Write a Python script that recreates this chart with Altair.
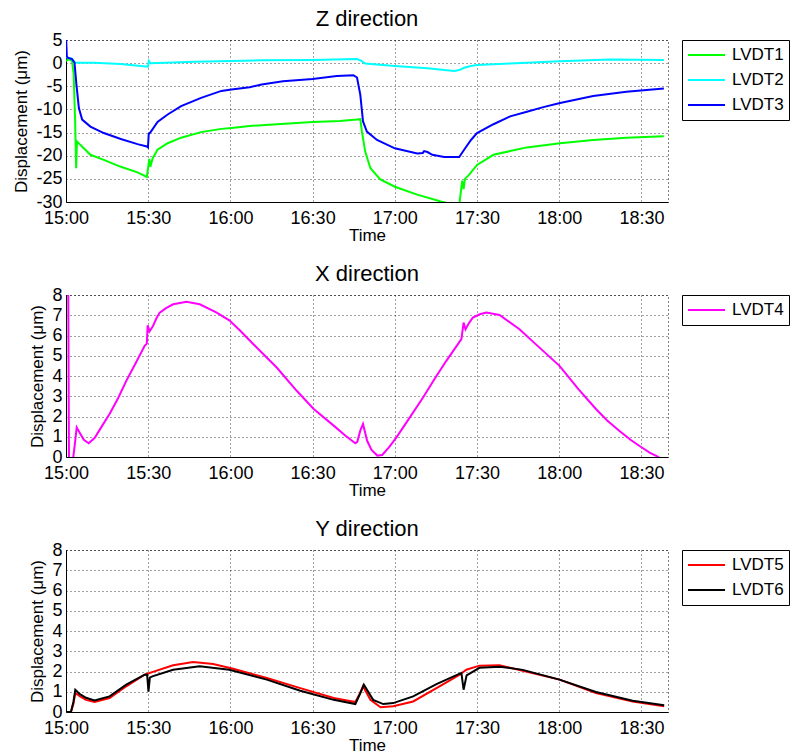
import altair as alt
import pandas as pd

# ---- Sensor readings: minutes after 15:00 and displacement in micrometres ----
# Z direction
LVDT1_T = [0, 1.0, 2.2, 2.8, 3.3, 3.7, 4.0, 5.3, 8.9, 13.8, 20, 26.1, 29.5, 30.0, 30.4, 30.8,
           31.6, 33.4, 37.1, 42, 49.3, 56.7, 60.4, 67, 71.4, 80, 90, 100, 106.2, 107.4, 108,
           109.2, 111.1, 114.7, 120, 128.2, 136.8, 140.4, 143.5, 144.1, 144.6, 145.1, 145.6,
           147, 150, 156, 162.1, 168.2, 180.3, 192.4, 204.5, 218.2]
LVDT1_V = [0.5, 0.8, 0.5, -2.4, -11.8, -22.7, -16.9, -17.7, -19.8, -20.9, -22.4, -23.6, -24.6,
           -22.4, -20.7, -22.4, -20.6, -18.7, -17.3, -16.1, -14.9, -14.2, -14.0, -13.6, -13.4,
           -13.1, -12.7, -12.5, -12.2, -12.1, -14.8, -19.1, -22.7, -25.1, -26.7, -28.4, -29.9,
           -30.4, -30.7, -27.8, -25.4, -27.2, -25.0, -24.2, -22.0, -19.8, -19.0, -18.2, -17.3,
           -16.6, -16.1, -15.8]

LVDT2_T = [0, 0.6, 2.0, 3.4, 10.2, 20, 29.1, 29.9, 30.2, 30.8, 46.9, 71.4, 90, 106.2, 107.5,
           109.2, 120, 131.9, 141.7, 143.5, 145.3, 147.8, 150, 162, 180.3, 198.5, 218.2]
LVDT2_V = [1.5, 1.1, 1.0, 0.1, 0.1, -0.2, -0.7, -0.8, 0.5, 0.0, 0.3, 0.6, 0.7, 0.9, 0.6, -0.1,
           -0.6, -1.1, -1.7, -1.5, -1.0, -0.6, -0.4, -0.1, 0.4, 0.8, 0.7]

LVDT3_T = [0, 0.3, 0.6, 2.2, 3.1, 3.8, 4.7, 5.9, 8.9, 13.8, 20, 26.1, 29.5, 29.9, 30.2, 31,
           33.4, 37.1, 42, 49.3, 56.7, 60.4, 67, 71.4, 79.2, 90, 98.8, 104.9, 106.2, 107.4,
           108.4, 109.8, 113.5, 120, 128.2, 130.2, 130.7, 131.9, 133.7, 138, 143.5, 145.3,
           147.8, 150, 156, 162.1, 168.2, 174.2, 180.3, 192.4, 204.5, 218.2]
LVDT3_V = [6.0, 1.5, 1.2, 0.9, 0.1, -4.6, -9.7, -12.2, -13.7, -15.1, -16.4, -17.5, -18.0, -18.2,
           -15.3, -14.8, -12.7, -11.1, -9.3, -7.5, -6.0, -5.7, -5.2, -4.6, -3.9, -3.4, -2.8,
           -2.6, -3.1, -6.8, -12.6, -14.8, -16.6, -18.4, -19.5, -19.4, -19.0, -19.2, -19.8,
           -20.3, -20.3, -18.7, -16.6, -15.1, -13.2, -11.5, -10.5, -9.5, -8.6, -7.1, -6.2, -5.5]

# X direction
LVDT4_T = [0.7, 1.1, 2.4, 3.2, 3.9, 5.0, 6.5, 8.3, 10.5, 13, 15.9, 19, 22, 25.5, 28.7, 29.5,
           29.8, 30.5, 31.7, 33, 34.2, 36.5, 39.1, 44, 48.8, 55, 59.6, 63.5, 68.4, 76.9, 84.2,
           90.4, 97.7, 102, 105.6, 106.3, 107.4, 108.4, 109.9, 111.5, 113.6, 115.4, 118, 120.6,
           125, 130.3, 134.5, 138.8, 144.3, 145.1, 145.8, 147, 148.5, 151, 153.4, 158.2, 165.5,
           172, 180.1, 187, 193.4, 197.5, 201.9, 206, 210, 213, 215.9, 218.2]
LVDT4_V = [12, -0.5, -0.3, 0.6, 1.46, 1.2, 0.85, 0.68, 0.95, 1.5, 2.12, 2.9, 3.76, 4.65, 5.49,
           5.6, 6.5, 6.2, 6.45, 6.85, 7.13, 7.35, 7.54, 7.67, 7.54, 7.13, 6.75, 6.25, 5.57, 4.42,
           3.27, 2.37, 1.55, 1.05, 0.68, 0.75, 1.3, 1.63, 0.8, 0.35, 0.07, 0.1, 0.5, 0.97, 1.86,
           2.94, 3.85, 4.75, 5.82, 6.64, 6.3, 6.6, 6.89, 7.05, 7.13, 7.01, 6.31, 5.5, 4.5, 3.35,
           2.37, 1.8, 1.3, 0.85, 0.48, 0.22, 0.02, -0.2]

# Y direction
LVDT5_T = [0, 1.8, 2.7, 3.4, 4.9, 7.3, 10.4, 15.9, 22, 28.7, 31.7, 39.1, 46.4, 53.7, 61, 73.3,
           85.5, 97.7, 105.6, 107.2, 108.4, 111.1, 114.8, 119.4, 126.7, 135.2, 143.7, 146.1,
           150.9, 158.2, 166.7, 180.1, 193.4, 206.8, 218.3]
LVDT5_V = [0, 0.0, 0.4, 0.94, 0.8, 0.6, 0.49, 0.69, 1.27, 1.84, 1.98, 2.31, 2.47, 2.37, 2.14,
           1.68, 1.18, 0.69, 0.49, 0.9, 1.27, 0.6, 0.23, 0.28, 0.52, 1.18, 1.84, 2.09, 2.29,
           2.31, 2.04, 1.6, 0.94, 0.52, 0.28]

LVDT6_T = [0, 1.8, 2.7, 3.4, 4.9, 7.3, 10.4, 15.9, 22, 28.7, 29.6, 30.1, 30.6, 31.5, 39.1, 48.8,
           59.6, 73.3, 85.5, 97.7, 105.6, 107.3, 108.7, 112.1, 115.8, 119.4, 126.7, 135.2,
           144.3, 145.1, 146.2, 150.9, 158.2, 166.7, 180.1, 193.4, 206.8, 218.3]
LVDT6_V = [0, 0.0, 0.5, 1.1, 0.9, 0.7, 0.57, 0.77, 1.35, 1.84, 1.85, 1.0, 1.7, 1.76, 2.09, 2.26,
           2.09, 1.6, 1.05, 0.6, 0.39, 0.9, 1.35, 0.6, 0.39, 0.44, 0.77, 1.38, 1.93, 1.1, 1.81,
           2.18, 2.24, 2.08, 1.6, 0.99, 0.56, 0.33]

# Axis ticks
TIME_TICKS = [(15, 0), (15, 30), (16, 0), (16, 30), (17, 0), (17, 30), (18, 0), (18, 30)]
Z_TICKS = [-30, -25, -20, -15, -10, -5, 0, 5]
XY_TICKS = [0, 1, 2, 3, 4, 5, 6, 7, 8]

FONT = "Liberation Sans"
START = pd.Timestamp("2000-01-01 15:00")


def dt(h, m, s=0):
    return alt.DateTime(year=2000, month=1, date=1, hours=h, minutes=m, seconds=s)


def frame(series):
    parts = []
    for name, t, v in series:
        parts.append(pd.DataFrame({
            "time": START + pd.to_timedelta(t, unit="m"),
            "value": v,
            "sensor": name,
        }))
    return pd.concat(parts, ignore_index=True)


def panel(series, colors, title, y_domain, y_ticks):
    names = [s[0] for s in series]
    return alt.Chart(frame(series)).mark_line(strokeWidth=2, clip=True).encode(
        x=alt.X("time:T",
                scale=alt.Scale(domain=[dt(15, 0), dt(18, 39, 42)]),
                axis=alt.Axis(values=[dt(h, m) for h, m in TIME_TICKS], format="%H:%M",
                              title="Time", labelPadding=7, titlePadding=0,
                              labelFlush=False, labelOverlap=False)),
        y=alt.Y("value:Q",
                scale=alt.Scale(domain=y_domain, nice=False, zero=False),
                axis=alt.Axis(values=y_ticks, title="Displacement (\u03bcm)",
                              labelExpr="datum.value + ''", labelPadding=4, titlePadding=5,
                              labelFlush=False, labelOverlap=False)),
        color=alt.Color("sensor:N",
                        scale=alt.Scale(domain=names, range=colors),
                        legend=alt.Legend(title=None, orient="none", legendX=616, legendY=0,
                                          symbolType="stroke", symbolStrokeWidth=2,
                                          symbolSize=1369, clipHeight=20,
                                          labelFontSize=17, labelFont=FONT,
                                          labelColor="black", labelOffset=6,
                                          strokeColor="black", fillColor="white",
                                          padding=5, rowPadding=5)),
    ).properties(width=602, height=162,
                 title=alt.TitleParams(title, fontSize=22, font=FONT, fontWeight="normal",
                                       color="black", anchor="middle", offset=0))


z_panel = panel([("LVDT1", LVDT1_T, LVDT1_V), ("LVDT2", LVDT2_T, LVDT2_V),
                 ("LVDT3", LVDT3_T, LVDT3_V)],
                ["#00ff00", "#00ffff", "#0000ff"], "Z direction", [-30, 5], Z_TICKS)
x_panel = panel([("LVDT4", LVDT4_T, LVDT4_V)],
                ["#ff00ff"], "X direction", [0, 8], XY_TICKS)
y_panel = panel([("LVDT5", LVDT5_T, LVDT5_V), ("LVDT6", LVDT6_T, LVDT6_V)],
                ["#ff0000", "#000000"], "Y direction", [0, 8], XY_TICKS)

chart = alt.vconcat(z_panel, x_panel, y_panel, spacing=18).resolve_scale(
    color="independent", y="independent",
).resolve_legend(
    color="independent",
).properties(
    padding={"left": 12, "top": 7, "right": 0, "bottom": 0},
    background="white",
).configure_view(
    stroke="black", strokeDash=[1, 3], strokeWidth=1,
).configure_axis(
    domainColor="black", domainWidth=1, ticks=False,
    grid=True, gridColor="black", gridDash=[1, 3], gridOpacity=0.75, gridWidth=1,
    labelFont=FONT, labelFontSize=18, labelColor="black",
    titleFont=FONT, titleFontSize=17, titleFontWeight="normal", titleColor="black",
).configure_legend(
    cornerRadius=0, strokeWidth=1,
)

chart.save("out.html", embed_options={"renderer": "svg", "actions": False})
